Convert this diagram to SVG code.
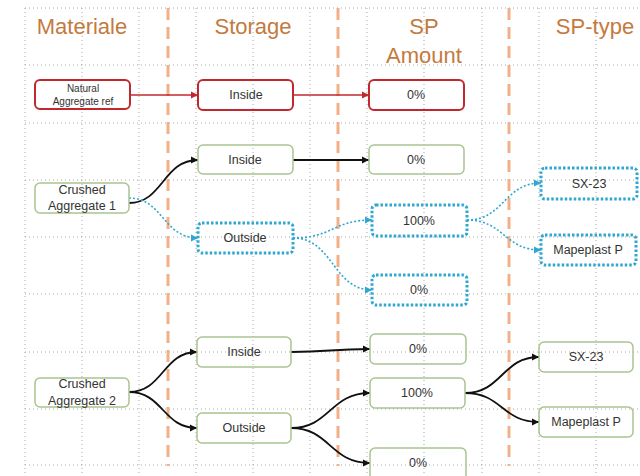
<svg xmlns="http://www.w3.org/2000/svg" width="640" height="476" viewBox="0 0 640 476">
<style>
.grid line{stroke:#a8a8a8;stroke-width:1;stroke-dasharray:1 3}
.sep{stroke:#F2B088;stroke-width:3;stroke-dasharray:12 7}
.hdr{font-family:"Liberation Sans",Arial,sans-serif;font-size:22px;fill:#C47A3E;text-anchor:middle}
.t{font-family:"Liberation Sans",Arial,sans-serif;font-size:12.5px;fill:#333;text-anchor:middle}
.ts{font-family:"Liberation Sans",Arial,sans-serif;font-size:10px;fill:#333;text-anchor:middle}
.red{fill:none;stroke:#C0282E;stroke-width:2}
.green{fill:none;stroke:#A9C590;stroke-width:1.5}
.blue{fill:none;stroke:#2FA7D1;stroke-width:3;stroke-dasharray:2.5 2}
.cb{fill:none;stroke:#111;stroke-width:1.8;marker-end:url(#ab)}
.cr{fill:none;stroke:#C0282E;stroke-width:1.5;marker-end:url(#ar)}
.cu{fill:none;stroke:#2FA7D1;stroke-width:1.6;stroke-dasharray:2 2;marker-end:url(#au)}
</style>
<defs>
<marker id="ab" markerWidth="8" markerHeight="8" refX="7" refY="4" orient="auto" markerUnits="userSpaceOnUse"><path d="M0,0.5 L7,4 L0,7.5 Z" fill="#111"/></marker>
<marker id="ar" markerWidth="8" markerHeight="8" refX="7" refY="4" orient="auto" markerUnits="userSpaceOnUse"><path d="M0,0.5 L7,4 L0,7.5 Z" fill="#C0282E"/></marker>
<marker id="au" markerWidth="8" markerHeight="8" refX="7" refY="4" orient="auto" markerUnits="userSpaceOnUse"><path d="M0,0.5 L7,4 L0,7.5 Z" fill="#2FA7D1"/></marker>
</defs>
<rect width="640" height="476" fill="#fff"/>
<g class="grid">
<line x1="25" y1="8" x2="25" y2="476"/><line x1="82" y1="8" x2="82" y2="476"/><line x1="139" y1="8" x2="139" y2="476"/><line x1="196" y1="8" x2="196" y2="476"/><line x1="253" y1="8" x2="253" y2="476"/><line x1="310" y1="8" x2="310" y2="476"/><line x1="367" y1="8" x2="367" y2="476"/><line x1="424" y1="8" x2="424" y2="476"/><line x1="482" y1="8" x2="482" y2="476"/><line x1="539" y1="8" x2="539" y2="476"/><line x1="596" y1="8" x2="596" y2="476"/>
<line x1="25" y1="8" x2="640" y2="8"/><line x1="25" y1="65" x2="640" y2="65"/><line x1="25" y1="123" x2="640" y2="123"/><line x1="25" y1="180" x2="640" y2="180"/><line x1="25" y1="237" x2="640" y2="237"/><line x1="25" y1="294" x2="640" y2="294"/><line x1="25" y1="352" x2="640" y2="352"/><line x1="25" y1="409" x2="640" y2="409"/><line x1="25" y1="465" x2="640" y2="465"/>
</g>
<g id="separators">
<line class="sep" x1="168" y1="8" x2="168" y2="466"/>
<line class="sep" x1="338" y1="8" x2="338" y2="466"/>
<line class="sep" x1="509" y1="8" x2="509" y2="466"/>
</g>
<g id="headers">
<text class="hdr" x="82" y="34">Materiale</text>
<text class="hdr" x="253" y="34">Storage</text>
<text class="hdr" x="424" y="34">SP</text>
<text class="hdr" x="424" y="63">Amount</text>
<text class="hdr" x="595" y="34">SP-type</text>
</g>
<g id="connectors">
<path class="cr" d="M130,95 L198,95"/>
<path class="cr" d="M293,95 L369,95"/>
<path class="cb" d="M129,203 C163,203 163,160 198,160"/>
<path class="cu" d="M129,198 C163,198 163,238 198,238"/>
<path class="cb" d="M293,160 L369,160"/>
<path class="cu" d="M293,238 C333,238 333,220 372,220"/>
<path class="cu" d="M293,238 C333,238 333,290 372,290"/>
<path class="cu" d="M467,220 C504,220 504,183 541,183"/>
<path class="cu" d="M467,220 C504,220 504,250 541,250"/>
<path class="cb" d="M129,392 C163,392 163,352 197,352"/>
<path class="cb" d="M129,392 C163,392 163,428 197,428"/>
<path class="cb" d="M291,352 C330,352 330,349 370,349"/>
<path class="cb" d="M291,428 C330,428 330,393 370,393"/>
<path class="cb" d="M291,428 C330,428 330,463 370,463"/>
<path class="cb" d="M465,393 C502,393 502,357 539,357"/>
<path class="cb" d="M465,393 C502,393 502,422 539,422"/>
</g>
<g id="natural"><rect class="red" x="35" y="80" width="95" height="29" rx="5"/><text class="ts" x="83" y="92">Natural</text><text class="ts" x="83" y="105">Aggregate ref</text></g>
<g id="inside0"><rect class="red" x="198" y="80" width="95" height="30" rx="5"/><text class="t" x="246" y="99">Inside</text></g>
<g id="sp0"><rect class="red" x="369" y="80" width="95" height="30" rx="5"/><text class="t" x="416" y="99">0%</text></g>
<g id="crushed1"><rect class="green" x="35" y="183" width="94" height="30" rx="5"/><text class="t" x="82" y="194">Crushed</text><text class="t" x="82" y="210">Aggregate 1</text></g>
<g id="inside1"><rect class="green" x="198" y="145" width="95" height="29" rx="5"/><text class="t" x="245" y="164">Inside</text></g>
<g id="outside1"><rect class="blue" x="198" y="223" width="95" height="30" rx="4"/><text class="t" x="245" y="242">Outside</text></g>
<g id="sp1a"><rect class="green" x="369" y="145" width="95" height="29" rx="5"/><text class="t" x="416" y="164">0%</text></g>
<g id="sp1b"><rect class="blue" x="372" y="205" width="95" height="31" rx="4"/><text class="t" x="419" y="225">100%</text></g>
<g id="sp1c"><rect class="blue" x="372" y="275" width="95" height="30" rx="4"/><text class="t" x="419" y="294">0%</text></g>
<g id="type1a"><rect class="blue" x="541" y="168" width="96" height="31" rx="4"/><text class="t" x="589" y="188">SX-23</text></g>
<g id="type1b"><rect class="blue" x="541" y="235" width="95" height="30" rx="4"/><text class="t" x="588" y="254">Mapeplast P</text></g>
<g id="crushed2"><rect class="green" x="35" y="378" width="94" height="29" rx="5"/><text class="t" x="82" y="388">Crushed</text><text class="t" x="82" y="405">Aggregate 2</text></g>
<g id="inside2"><rect class="green" x="197" y="337" width="94" height="30" rx="5"/><text class="t" x="244" y="356">Inside</text></g>
<g id="outside2"><rect class="green" x="197" y="413" width="94" height="30" rx="5"/><text class="t" x="244" y="432">Outside</text></g>
<g id="sp2a"><rect class="green" x="370" y="334" width="96" height="30" rx="5"/><text class="t" x="418" y="353">0%</text></g>
<g id="sp2b"><rect class="green" x="370" y="378" width="95" height="30" rx="5"/><text class="t" x="417" y="397">100%</text></g>
<g id="sp2c"><rect class="green" x="370" y="448" width="96" height="32" rx="5"/><text class="t" x="418" y="467">0%</text></g>
<g id="type2a"><rect class="green" x="539" y="342" width="94" height="30" rx="5"/><text class="t" x="586" y="361">SX-23</text></g>
<g id="type2b"><rect class="green" x="539" y="407" width="94" height="30" rx="5"/><text class="t" x="586" y="426">Mapeplast P</text></g>
</svg>
